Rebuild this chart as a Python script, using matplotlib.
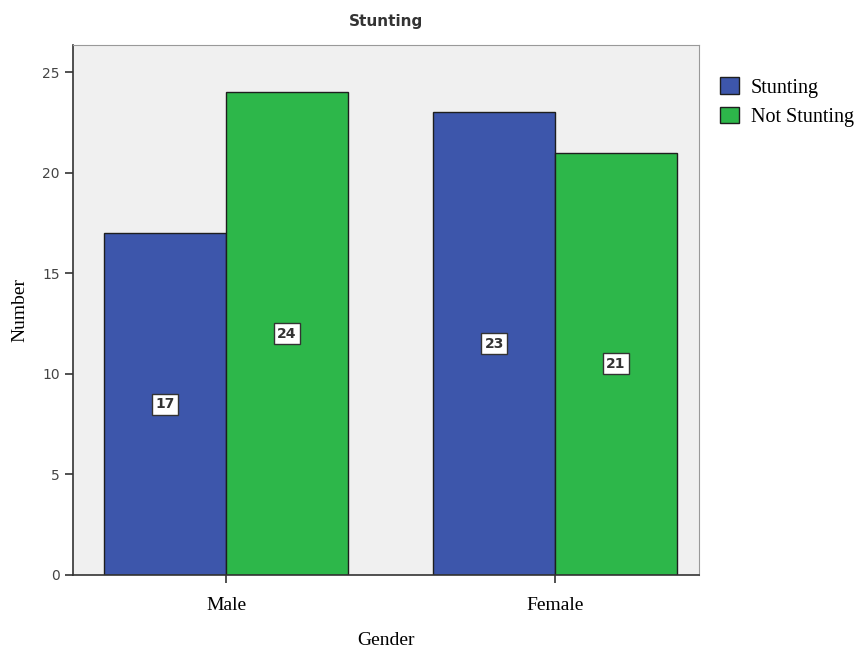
import matplotlib
matplotlib.use("Agg")
import matplotlib.pyplot as plt
import numpy as np

categories = ["Male", "Female"]
series_names = ["Stunting", "Not Stunting"]
stunting = [17, 23]
not_stunting = [24, 21]
yticks = [0, 5, 10, 15, 20, 25]

colors = ["#3d56ab", "#2db74a"]

fig = plt.figure(figsize=(8.59, 6.51), dpi=100)
W, H = 859, 651
ax = fig.add_axes([73 / W, 1 - 575 / H, (699 - 73) / W, (575 - 45) / H])
ax.set_facecolor("#f0f0f0")

x = np.arange(len(categories))
bw = 0.37
for i, (vals, col) in enumerate(zip([stunting, not_stunting], colors)):
    offs = (i - 0.5) * bw
    bars = ax.bar(x + offs, vals, width=bw, color=col, edgecolor="#1e1e1e",
                  linewidth=1.0, label=series_names[i], zorder=2)
    for xi, v in zip(x + offs, vals):
        ax.text(xi, v / 2, str(v), ha="center", va="center", fontsize=10,
                fontweight="bold", color="#333333", family="DejaVu Sans",
                bbox=dict(boxstyle="square,pad=0.25", fc="white", ec="#333333", lw=1.0),
                zorder=3)

ax.set_xlim((73 - 226) / 329, (699 - 226) / 329)
ax.set_ylim(0, 26.35)
ax.set_yticks(yticks)
ax.set_xticks(x)
ax.set_xticklabels(categories, family="Liberation Serif", fontsize=14)
ax.tick_params(axis="y", labelsize=10, colors="#333333", labelcolor="#444444", length=6, width=1.2)
ax.tick_params(axis="x", length=6, width=1.2, colors="#333333", labelcolor="black", pad=10)
for s in ax.spines.values():
    s.set_color("#999999")
ax.spines["left"].set_color("#333333")
ax.spines["bottom"].set_color("#333333")
ax.spines["left"].set_linewidth(1.2)
ax.spines["bottom"].set_linewidth(1.2)

ax.set_title("Stunting", fontsize=11, fontweight="bold", color="#333333", pad=14)
ax.set_xlabel("Gender", family="Liberation Serif", fontsize=14, labelpad=13)
ax.set_ylabel("Number", family="Liberation Serif", fontsize=14, labelpad=10)

leg = ax.legend(loc="upper left", bbox_to_anchor=(1.015, 0.962), frameon=False,
                prop={"family": "Liberation Serif", "size": 14.5},
                handlelength=0.9, handleheight=0.9, handletextpad=0.6, labelspacing=0.45,
                borderaxespad=0.2)

fig.savefig("out.png", dpi=100)
